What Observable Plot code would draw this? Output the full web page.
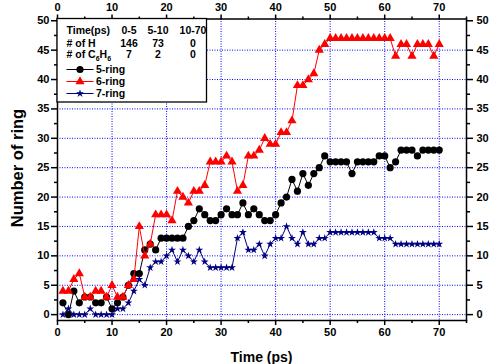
<!DOCTYPE html>
<html><head><meta charset="utf-8">
<script src="https://cdn.jsdelivr.net/npm/d3@7"></script>
<script src="https://cdn.jsdelivr.net/npm/@observablehq/plot@0.6"></script>
<style>body{margin:0;background:#fff} svg{font-family:"Liberation Sans",Arial,sans-serif}</style>
</head><body><div id="chart"></div>
<script>
const time = [1,2,3,4,5,6,7,8,9,10,11,12,13,14,15,16,17,18,19,20,21,22,23,24,25,26,27,28,29,30,31,32,33,34,35,36,37,38,39,40,41,42,43,44,45,46,47,48,49,50,51,52,53,54,55,56,57,58,59,60,61,62,63,64,65,66,67,68,69,70];
const ring5 = [2,0,4,2,3,3,2,2,3,1, 2,3,5,7,7,11,12,11,13,13, 13,13,13,15,16,18,17,16,16,17, 18,17,17,19,17,18,17,16,16,17, 19,20,23,21,24,22,24,25,27,26, 26,26,26,24,26,26,26,26,27,27, 25,26,28,28,28,27,28,28,28,28];
const ring6 = [4,4,6,7,3,3,4,4,3,5, 3,3,5,6,15,10,12,17,17,17, 16,21,20,19,21,21,22,26,26,26, 27,26,21,22,27,27,28,30,29,29, 31,31,33,39,39,40,41,45,46,47, 47,47,47,47,47,47,47,47,47,47, 47,44,46,46,44,46,46,46,44,46];
const ring7 = [0,1,0,0,0,1,0,0,0,0, 1,1,2,4,6,5,8,9,9,10, 11,9,11,10,9,11,9,8,8,8, 8,8,13,14,11,11,12,10,12,13, 13,15,13,12,14,12,12,13,13,14, 14,14,14,14,14,14,14,14,13,13, 13,12,12,12,12,12,12,12,12,12];
const seriesNames = ["5-ring","6-ring","7-ring"];
const xTicks = [0,10,20,30,40,50,60,70];
const xMinor = [5,15,25,35,45,55,65,75];
const yTicks = [0,5,10,15,20,25,30,35,40,45,50];
const yMinor = [2.5,7.5,12.5,17.5,22.5,27.5,32.5,37.5,42.5,47.5];
const tableHeader = ["Time(ps)","0-5","5-10","10-70"];
const tableH = ["# of H","146","73","0"];
const tableC6H6 = ["# of C6H6","7","2","0"];
const xTitle = "Time (ps)";
const yTitle = "Number of ring";

const mk = (vals) => time.map((t,i) => ({t, v: vals[i]}));
const s5 = mk(ring5), s6 = mk(ring6), s7 = mk(ring7);
const gridStyle = {stroke:"#0000ff", strokeOpacity:1, strokeDasharray:"1,1.5", strokeWidth:1};
const blank = () => "";

const chart = Plot.plot({
  width: 490, height: 364,
  marginLeft: 57, marginRight: 24, marginTop: 18.5, marginBottom: 44,
  style: {fontFamily: "Liberation Sans, Arial, sans-serif", fontWeight: "bold", fontSize: "11px", color: "black", background: "white", overflow: "visible"},
  x: {domain: [0, 75]},
  y: {domain: [-1, 50.3]},
  marks: [
    Plot.gridX(xTicks.slice(1), gridStyle),
    Plot.gridY(yTicks.slice(0, -1), gridStyle),
    Plot.axisX(xTicks, {anchor: "bottom", tickSize: 5, tickPadding: 3, label: null, strokeWidth: 1.5}),
    Plot.axisX(xMinor, {anchor: "bottom", tickSize: 3, tickFormat: blank, label: null, strokeWidth: 1.5}),
    Plot.axisX(xTicks, {anchor: "top", tickSize: 5, tickPadding: 3, label: null, strokeWidth: 1.5}),
    Plot.axisX(xMinor, {anchor: "top", tickSize: 3, tickFormat: blank, label: null, strokeWidth: 1.5}),
    Plot.axisY(yTicks, {anchor: "left", tickSize: 6, tickPadding: 2, label: null, strokeWidth: 1.5}),
    Plot.axisY(yMinor, {anchor: "left", tickSize: 3, tickFormat: blank, label: null, strokeWidth: 1.5}),
    Plot.axisY(yTicks, {anchor: "right", tickSize: 6, tickPadding: 4, label: null, strokeWidth: 1.5}),
    Plot.axisY(yMinor, {anchor: "right", tickSize: 3, tickFormat: blank, label: null, strokeWidth: 1.5}),
    Plot.line(s5, {x: "t", y: "v", stroke: "black", strokeWidth: 1}),
    Plot.dot(s5, {x: "t", y: "v", fill: "black", stroke: "none", r: 3.6, symbol: "circle"}),
    Plot.line(s6, {x: "t", y: "v", stroke: "#ff0000", strokeWidth: 1}),
    Plot.dot(s6, {x: "t", y: "v", fill: "#ff0000", stroke: "none", r: 3.4, symbol: "triangle"}),
    Plot.line(s7, {x: "t", y: "v", stroke: "#000080", strokeWidth: 1}),
    Plot.dot(s7, {x: "t", y: "v", fill: "#000080", stroke: "none", r: 2.5, symbol: "star"}),
    Plot.frame({stroke: "black", strokeWidth: 1.5})
  ]
});
document.getElementById("chart").appendChild(chart);

const svg = d3.select(chart);
// axis titles
svg.append("text").attr("x", 261.5).attr("y", 362).attr("text-anchor", "middle")
  .attr("font-size", 14).attr("font-weight", "bold").attr("fill", "black").text(xTitle);
svg.append("text").attr("transform", "translate(23,168) rotate(-90)").attr("text-anchor", "middle")
  .attr("font-size", 16.5).attr("font-weight", "bold").attr("fill", "black").text(yTitle);

// table / legend box
const g = svg.append("g").attr("font-size", 10.5).attr("font-weight", "bold").attr("fill", "black");
g.append("rect").attr("x", 57).attr("y", 18.5).attr("width", 149.5).attr("height", 83.5)
  .attr("fill", "white").attr("stroke", "black").attr("stroke-width", 1.3);
const colX = [66.5, 129, 158, 193];
const rows = [[tableHeader, 33.8], [tableH, 47], [tableC6H6, 58]];
rows.forEach(([row, y]) => {
  row.forEach((txt, j) => {
    const t = g.append("text").attr("x", colX[j]).attr("y", y).attr("text-anchor", j === 0 ? "start" : "middle");
    if (txt === "# of C6H6") {
      t.append("tspan").text("# of C");
      t.append("tspan").attr("font-size", 7).attr("dy", 2.5).text("6");
      t.append("tspan").attr("dy", -2.5).text("H");
      t.append("tspan").attr("font-size", 7).attr("dy", 2.5).text("6");
    } else t.text(txt);
  });
});
const legendSpec = [
  {color: "black", sym: d3.symbolCircle, size: Math.PI * 3.6 * 3.6},
  {color: "#ff0000", sym: d3.symbolTriangle, size: Math.PI * 3.4 * 3.4},
  {color: "#000080", sym: d3.symbolStar, size: Math.PI * 2.5 * 2.5}
];
const legY = [69.5, 81.5, 93.5];
seriesNames.forEach((name, i) => {
  const y = legY[i], s = legendSpec[i];
  g.append("line").attr("x1", 66.5).attr("x2", 93.5).attr("y1", y).attr("y2", y).attr("stroke", s.color).attr("stroke-width", 1);
  g.append("path").attr("d", d3.symbol(s.sym, s.size)()).attr("transform", `translate(80,${y})`).attr("fill", s.color);
  g.append("text").attr("x", 96).attr("y", y + 3.8).attr("text-anchor", "start").text(name);
});
</script>
</body></html>
